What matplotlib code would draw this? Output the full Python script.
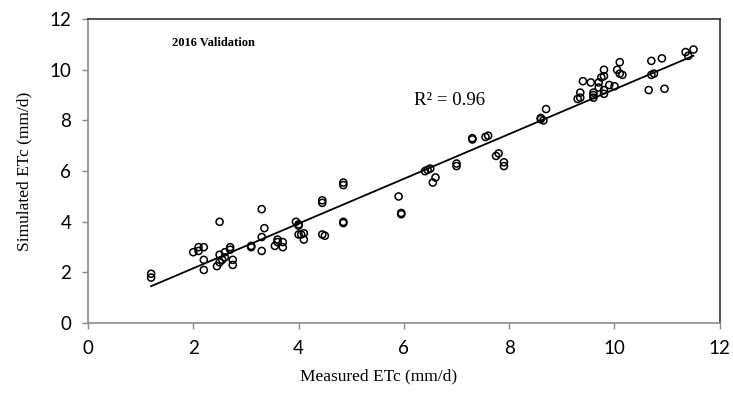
import numpy as np
import matplotlib.pyplot as plt

# measured / simulated ETc (mm/d)
measured = [1.2, 1.2,
            2.0, 2.1, 2.1, 2.2, 2.2, 2.2,
            2.5, 2.45, 2.5, 2.55, 2.5, 2.6, 2.6,
            2.7, 2.7, 2.75, 2.75,
            3.1, 3.1,
            3.3, 3.35, 3.3, 3.3,
            3.55, 3.6, 3.6, 3.7, 3.7,
            3.95, 4.0, 4.0, 4.0, 4.05, 4.1, 4.1,
            4.45, 4.45, 4.45, 4.5,
            4.85, 4.85, 4.85, 4.85,
            5.9, 5.95, 5.95,
            6.4, 6.45, 6.5, 6.55, 6.6,
            7.0, 7.0,
            7.3, 7.3,
            7.55, 7.6,
            7.75, 7.8,
            7.9, 7.9,
            8.6, 8.6, 8.7, 8.65,
            9.3, 9.35, 9.35, 9.4,
            9.55, 9.6, 9.6, 9.6,
            9.7, 9.7, 9.75, 9.8, 9.8, 9.8,
            9.9, 9.8,
            10.05, 10.1, 10.1, 10.15, 10.0,
            10.65, 10.7, 10.7, 10.75, 10.9, 10.95,
            11.35, 11.4, 11.5]
simulated = [1.95, 1.8,
             2.8, 2.85, 3.0, 3.0, 2.5, 2.1,
             4.0, 2.25, 2.4, 2.5, 2.7, 2.6, 2.8,
             2.9, 3.0, 2.5, 2.3,
             3.0, 3.05,
             4.5, 3.75, 3.4, 2.85,
             3.05, 3.2, 3.3, 3.0, 3.2,
             4.0, 3.85, 3.9, 3.5, 3.5, 3.3, 3.55,
             4.75, 4.85, 3.5, 3.45,
             5.45, 5.55, 4.0, 3.95,
             5.0, 4.3, 4.35,
             6.0, 6.05, 6.1, 5.55, 5.75,
             6.2, 6.3,
             7.25, 7.3,
             7.35, 7.4,
             6.6, 6.7,
             6.35, 6.2,
             8.1, 8.05, 8.45, 8.0,
             8.85, 8.9, 9.1, 9.55,
             9.5, 9.1, 9.0, 8.9,
             9.3, 9.5, 9.7, 9.75, 9.2, 9.05,
             9.4, 10.0,
             10.0, 10.3, 9.85, 9.8, 9.35,
             9.2, 10.35, 9.8, 9.85, 10.45, 9.25,
             10.7, 10.55, 10.8]

# linear trendline as drawn in the figure
trend_slope = 0.883
trend_intercept = 0.40

x = np.array(measured)
y = np.array(simulated)
xl = np.array([x.min(), x.max()])

fig = plt.figure(figsize=(7.33, 3.98), dpi=100)
ax = fig.add_axes([0.120, 0.188, 0.862, 0.764])

ax.scatter(x, y, s=26, facecolors='none', edgecolors='black', linewidths=1.1, zorder=3)
ax.plot(xl, trend_slope * xl + trend_intercept, color='black', linewidth=1.3, zorder=2)

ax.set_xlim(0, 12)
ax.set_ylim(0, 12)
ax.set_xticks(range(0, 13, 2))
ax.set_yticks(range(0, 13, 2))

for s in ['left', 'bottom']:
	ax.spines[s].set_color('#8a8a8a')
for s in ['top', 'right']:
	ax.spines[s].set_color('#333333')
for s in ax.spines.values():
	s.set_linewidth(1.2)

ax.tick_params(direction='out', length=4, color='#8a8a8a', width=1, labelsize=13.5, pad=8)
for lab in ax.get_xticklabels() + ax.get_yticklabels():
	lab.set_family('Lato')

ax.set_xlabel('Measured ETc (mm/d)', family='Liberation Serif', fontsize=12.5, labelpad=10)
ax.set_ylabel('Simulated ETc (mm/d)', family='Liberation Serif', fontsize=12.5, labelpad=12)
ax.xaxis.set_label_coords(0.46, -0.15)

ax.text(2.38, 11.05, '2016 Validation', family='Liberation Serif', fontweight='bold',
		fontsize=9, ha='center', va='center')
ax.text(6.2, 8.8, 'R² = 0.96', family='Liberation Serif', fontsize=13.5, ha='left', va='center')

fig.savefig('out.png', dpi=100)
